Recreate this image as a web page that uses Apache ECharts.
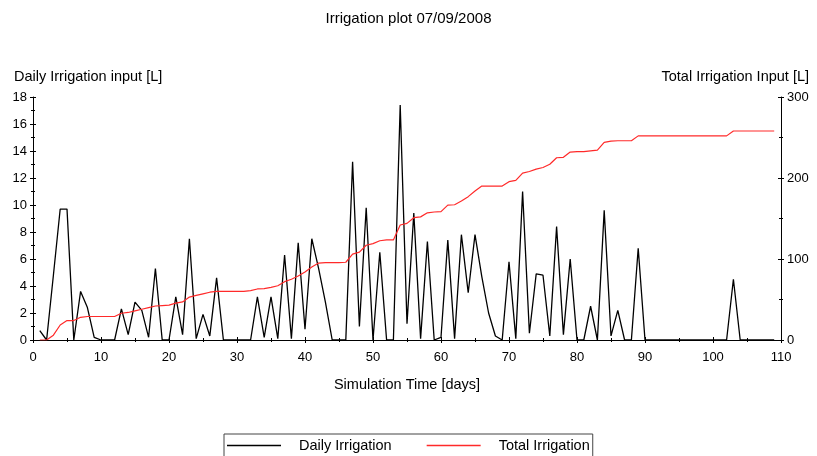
<!DOCTYPE html>
<html>
<head>
<meta charset="utf-8">
<script src="https://cdn.jsdelivr.net/npm/echarts@6/dist/echarts.min.js"></script>
<style>
  html, body { margin: 0; padding: 0; background: #ffffff; }
  #chart { width: 817px; height: 456px; }
</style>
</head>
<body>
<div id="chart"></div>
<script>
// Simulation days (1..109)
const days = [];
for (let d = 1; d <= 109; d++) days.push(d);

// Daily irrigation input [L], one value per simulation day
const dailyIrrigation = [
  0.7, 0, 4.8, 9.7, 9.7, 0, 3.6, 2.4, 0.2, 0,          // 1-10
  0, 0, 2.3, 0.4, 2.8, 2.2, 0.2, 5.3, 0, 0,            // 11-20
  3.2, 0.4, 7.5, 0.1, 1.9, 0.3, 4.6, 0, 0, 0,          // 21-30
  0, 0, 3.2, 0.2, 3.2, 0.1, 6.3, 0.1, 7.2, 0.8,        // 31-40
  7.5, 5.3, 2.8, 0, 0, 0, 13.2, 1.0, 9.8, 0,           // 41-50
  6.5, 0, 0, 17.4, 1.2, 9.4, 0.1, 7.3, 0, 0.2,         // 51-60
  7.4, 0.1, 7.8, 3.5, 7.8, 4.7, 2.0, 0.3, 0, 5.8,      // 61-70
  0.1, 11.0, 0.5, 4.9, 4.8, 0.3, 8.4, 0.4, 6.0, 0,     // 71-80
  0, 2.5, 0, 9.6, 0.3, 2.2, 0, 0, 6.8, 0,              // 81-90
  0, 0, 0, 0, 0, 0, 0, 0, 0, 0,                        // 91-100
  0, 0, 4.5, 0, 0, 0, 0, 0, 0                          // 101-109
];

// Total (cumulative) irrigation input [L]
const totalIrrigation = [
  0, 0, 6, 18.5, 24, 24, 28, 29, 29, 29,                   // 1-10
  29, 29, 33, 34, 36, 38, 40, 42, 42.5, 43,                // 11-20
  45.5, 47, 53, 55, 57, 59, 60, 60, 60, 60,                // 21-30
  60, 61, 63, 63.5, 65, 67, 72, 75, 79, 84,                // 31-40
  90, 95, 95.5, 95.5, 95.5, 96, 106, 108.5, 117, 119,      // 41-50
  122.5, 123.5, 123.5, 142, 144, 151, 152, 157, 158, 158.5,// 51-60
  166.5, 167, 171.5, 177, 184, 190, 190, 190, 190, 195.5,  // 61-70
  197, 206, 208, 211, 213, 217, 225, 225.5, 232, 232.5,    // 71-80
  232.5, 233.5, 234.5, 244, 245.5, 246, 246, 246, 252, 252,// 81-90
  252, 252, 252, 252, 252, 252, 252, 252, 252, 252,        // 91-100
  252, 252, 258, 258, 258, 258, 258, 258, 258              // 101-109
];

const chartTitle = 'Irrigation plot 07/09/2008';
const leftAxisName = 'Daily Irrigation input [L]';
const rightAxisName = 'Total Irrigation Input [L]';
const xAxisName = 'Simulation Time [days]';
const seriesNames = ['Daily Irrigation', 'Total Irrigation'];

const FONT = '"Liberation Sans", Arial, sans-serif';
const TEXT_SIZE = 14.5;
const TICK_SIZE = 13;
const chart = echarts.init(document.getElementById('chart'), null, { renderer: 'canvas' });

// Outer axis: line, labels and outward ticks
function outerAxis(extra) {
  return Object.assign({
    axisLine: { show: true, onZero: false, lineStyle: { color: '#000', width: 1 } },
    axisTick: { show: true, length: 3, lineStyle: { color: '#000' } },
    minorTick: { show: true, splitNumber: 2, length: 2, lineStyle: { color: '#000' } },
    splitLine: { show: false },
    axisLabel: { color: '#000', fontFamily: FONT, fontSize: TICK_SIZE }
  }, extra);
}
// Companion axis on the same scale: inward tick halves so ticks cross the axis line
function innerAxis(extra) {
  return Object.assign({
    axisLine: { show: false, onZero: false },
    axisTick: { show: true, inside: true, length: 3, lineStyle: { color: '#000' } },
    minorTick: { show: true, splitNumber: 2, length: 2, lineStyle: { color: '#000' } },
    splitLine: { show: false },
    axisLabel: { show: false }
  }, extra);
}

chart.setOption({
  backgroundColor: '#ffffff',
  animation: false,
  title: [
    { text: chartTitle, left: 'center', top: 6,
      textStyle: { fontFamily: FONT, fontSize: 15, fontWeight: 'normal', color: '#000' } },
    { text: leftAxisName, left: 9, top: 64,
      textStyle: { fontFamily: FONT, fontSize: TEXT_SIZE, fontWeight: 'normal', color: '#000' } },
    { text: rightAxisName, right: 3, top: 64,
      textStyle: { fontFamily: FONT, fontSize: TEXT_SIZE, fontWeight: 'normal', color: '#000' } }
  ],
  grid: { left: 33, right: 36, top: 97, bottom: 116, containLabel: false },
  legend: {
    data: seriesNames,
    left: 224,
    top: 434,
    orient: 'horizontal',
    padding: [4, 3, 10, 3],
    borderColor: '#444',
    borderWidth: 1,
    icon: 'rect',
    itemWidth: 54,
    itemHeight: 1.4,
    itemGap: 35,
    textStyle: { fontFamily: FONT, fontSize: TEXT_SIZE, color: '#000', padding: [0, 0, 0, 13] }
  },
  xAxis: [
    outerAxis({
      type: 'value', position: 'bottom',
      min: 0, max: 110, interval: 10,
      name: xAxisName,
      nameLocation: 'middle',
      nameGap: 37,
      nameTextStyle: { fontFamily: FONT, fontSize: TEXT_SIZE, color: '#000' },
      axisLabel: { color: '#000', fontFamily: FONT, fontSize: TICK_SIZE, margin: 11 }
    }),
    innerAxis({ type: 'value', position: 'bottom', min: 0, max: 110, interval: 10 })
  ],
  yAxis: [
    outerAxis({
      type: 'value', position: 'left',
      min: 0, max: 18, interval: 2,
      axisLabel: { color: '#000', fontFamily: FONT, fontSize: TICK_SIZE, margin: 6 }
    }),
    outerAxis({
      type: 'value', position: 'right',
      min: 0, max: 300, interval: 100,
      axisLabel: { color: '#000', fontFamily: FONT, fontSize: TICK_SIZE, margin: 6 }
    }),
    innerAxis({ type: 'value', position: 'left', min: 0, max: 18, interval: 2 }),
    innerAxis({ type: 'value', position: 'right', min: 0, max: 300, interval: 100 })
  ],
  series: [
    {
      name: seriesNames[0],
      type: 'line',
      xAxisIndex: 0,
      yAxisIndex: 0,
      symbol: 'none',
      color: '#000000',
      lineStyle: { color: '#000000', width: 1.3 },
      data: days.map((d, i) => [d, dailyIrrigation[i]])
    },
    {
      name: seriesNames[1],
      type: 'line',
      xAxisIndex: 0,
      yAxisIndex: 1,
      symbol: 'none',
      color: '#ff2a2a',
      lineStyle: { color: '#ff2a2a', width: 1.2 },
      data: days.map((d, i) => [d, totalIrrigation[i]])
    }
  ]
});
</script>
</body>
</html>
